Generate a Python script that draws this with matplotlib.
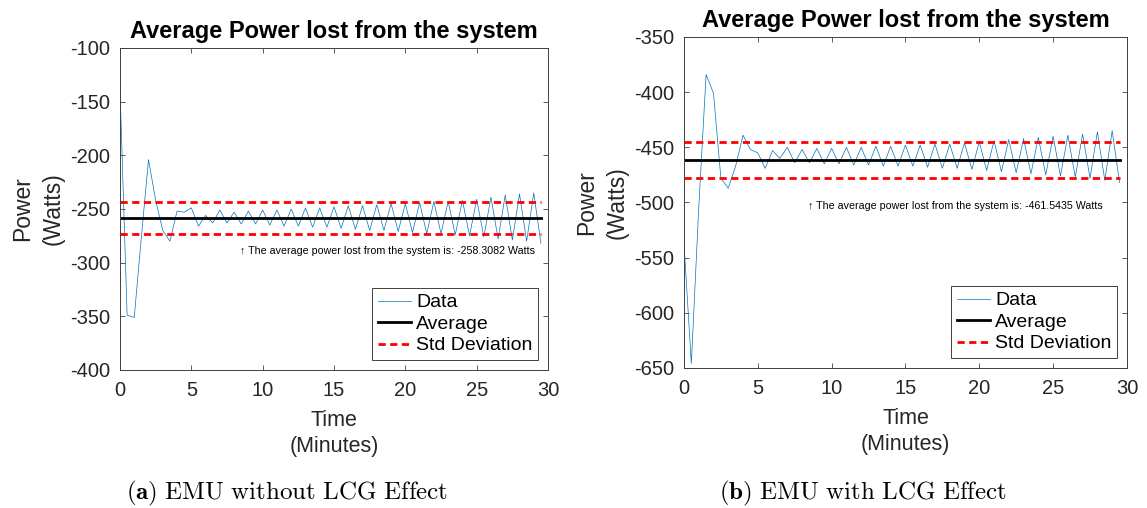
#!/usr/bin/env python3
# -*- coding: utf-8 -*-
# ============================================================================
# Title     : Average power lost from the system (EMU with / without LCG)
# ----------------------------------------------------------------------------
# Description :
#   Two side-by-side MATLAB-like panels: power trace, average line and
#   +/- one standard deviation band, saved as out.png.
# ============================================================================

# -----------------------------------------------------------------------------
# Import
# -----------------------------------------------------------------------------

import matplotlib

matplotlib.use("Agg")

import matplotlib.pyplot as plt

# -----------------------------------------------------------------------------
# Data
# -----------------------------------------------------------------------------

TIME_MIN = [
    0.0, 0.5, 1.0, 1.5, 2.0, 2.5, 3.0, 3.5, 4.0, 4.5,
    5.0, 5.5, 6.0, 6.5, 7.0, 7.5, 8.0, 8.5, 9.0, 9.5,
    10.0, 10.5, 11.0, 11.5, 12.0, 12.5, 13.0, 13.5, 14.0, 14.5,
    15.0, 15.5, 16.0, 16.5, 17.0, 17.5, 18.0, 18.5, 19.0, 19.5,
    20.0, 20.5, 21.0, 21.5, 22.0, 22.5, 23.0, 23.5, 24.0, 24.5,
    25.0, 25.5, 26.0, 26.5, 27.0, 27.5, 28.0, 28.5, 29.0, 29.5,
]

# EMU without LCG effect (Watts)
POWER_NO_LCG = [
    -137, -349, -351, -276, -204, -242, -270, -280, -252, -253,
    -249, -266, -256, -263, -251, -263, -253, -264, -252, -264,
    -251, -265, -251, -266, -250, -266, -249, -267, -249, -267,
    -248, -268, -247, -269, -247, -270, -246, -270, -245, -271,
    -245, -272, -244, -273, -243, -273, -243, -274, -242, -275,
    -241, -276, -239, -278, -237, -279, -236, -280, -235, -282,
]

# EMU with LCG effect (Watts)
POWER_WITH_LCG = [
    -537, -646, -505, -384, -401, -478, -487, -467, -439, -452,
    -455, -469, -453, -460, -450, -464, -452, -464, -451, -465,
    -451, -465, -450, -466, -450, -466, -449, -467, -449, -467,
    -448, -467, -448, -468, -447, -469, -447, -469, -446, -470,
    -445, -471, -444, -472, -443, -473, -442, -474, -441, -475,
    -440, -476, -439, -477, -438, -478, -436, -480, -435, -482,
]

AVG_NO_LCG = -258.3082
AVG_WITH_LCG = -461.5435
STD_NO_LCG = 15.2
STD_WITH_LCG = 16.0

YLIM_NO_LCG = (-400, -100)
YLIM_WITH_LCG = (-650, -350)
XLIM = (0, 30)

# Anchor (time, power) of the average annotation, MATLAB text() style.
NOTE_AT_NO_LCG = (8.4, -289)
NOTE_AT_WITH_LCG = (8.4, -503)

TITLE = "Average Power lost from the system"
CAPTION_NO_LCG = r"$\mathbf{(a)}\ \mathrm{EMU\ without\ LCG\ Effect}$"
CAPTION_WITH_LCG = r"$\mathbf{(b)}\ \mathrm{EMU\ with\ LCG\ Effect}$"

# -----------------------------------------------------------------------------
# Style
# -----------------------------------------------------------------------------

plt.rcParams["font.family"] = ["Liberation Sans", "DejaVu Sans"]
plt.rcParams["axes.unicode_minus"] = False
plt.rcParams["mathtext.fontset"] = "cm"

MATLAB_BLUE = "#0072BD"
AXIS_GREY = "0.25"


# -----------------------------------------------------------------------------
# Function : draw_panel
# Description :
#   Draw one power panel with data, average and std deviation lines.
# -----------------------------------------------------------------------------
def draw_panel(ax, power, avg, std, ylim, note_at):
    t0, t1 = TIME_MIN[0], TIME_MIN[-1]

    ax.plot(TIME_MIN, power, color=MATLAB_BLUE, lw=0.5, label="Data")
    ax.plot([t0, t1], [avg, avg], color="black", lw=2, label="Average")
    ax.plot([t0, t1], [avg + std, avg + std], color="red", lw=2,
            ls=(0, (2.6, 1.6)), label="Std Deviation")
    ax.plot([t0, t1], [avg - std, avg - std], color="red", lw=2,
            ls=(0, (2.6, 1.6)))

    ax.set_xlim(*XLIM)
    ax.set_ylim(*ylim)
    ax.set_xticks(range(0, 31, 5))

    ax.set_title(TITLE, fontsize=17, fontweight="bold", pad=7)
    ax.set_xlabel("Time\n(Minutes)", fontsize=15.5, labelpad=7,
                  color="0.15", linespacing=1.3)
    ax.set_ylabel("Power\n(Watts)", fontsize=16.5, labelpad=4,
                  color="0.15", linespacing=1.4)

    ax.tick_params(direction="in", top=True, right=True, length=3.5,
                   width=0.6, color=AXIS_GREY, labelcolor="0.15",
                   labelsize=14.5)
    ax.tick_params(axis="x", pad=8)
    ax.tick_params(axis="y", pad=7)
    for spine in ax.spines.values():
        spine.set_color(AXIS_GREY)
        spine.set_linewidth(0.7)

    ax.text(note_at[0], note_at[1],
            f"\u2191 The average power lost from the system is: {avg:.4f} Watts",
            fontsize=7.7, ha="left", va="center", color="black")

    leg = ax.legend(loc="lower right", fontsize=14, fancybox=False,
                    framealpha=1, edgecolor=AXIS_GREY, borderpad=0.3,
                    labelspacing=0.2, handlelength=1.7, handletextpad=0.25,
                    borderaxespad=0.5)
    leg.get_frame().set_linewidth(0.7)


# -----------------------------------------------------------------------------
# Function : main
# -----------------------------------------------------------------------------
def main() -> None:
    fig = plt.figure(figsize=(11.47, 5.08), dpi=100)

    ax_a = fig.add_axes([0.1046, 0.2717, 0.3732, 0.6339])
    ax_b = fig.add_axes([0.5963, 0.2756, 0.3862, 0.6516])

    draw_panel(ax_a, POWER_NO_LCG, AVG_NO_LCG, STD_NO_LCG, YLIM_NO_LCG,
               NOTE_AT_NO_LCG)
    draw_panel(ax_b, POWER_WITH_LCG, AVG_WITH_LCG, STD_WITH_LCG,
               YLIM_WITH_LCG, NOTE_AT_WITH_LCG)

    fig.text(0.250, 0.028, CAPTION_NO_LCG, fontsize=18, ha="center",
             va="center")
    fig.text(0.752, 0.028, CAPTION_WITH_LCG, fontsize=18, ha="center",
             va="center")

    fig.savefig("out.png", dpi=100)


# -----------------------------------------------------------------------------
# Entry point
# -----------------------------------------------------------------------------

if __name__ == "__main__":
    main()

# end of file
